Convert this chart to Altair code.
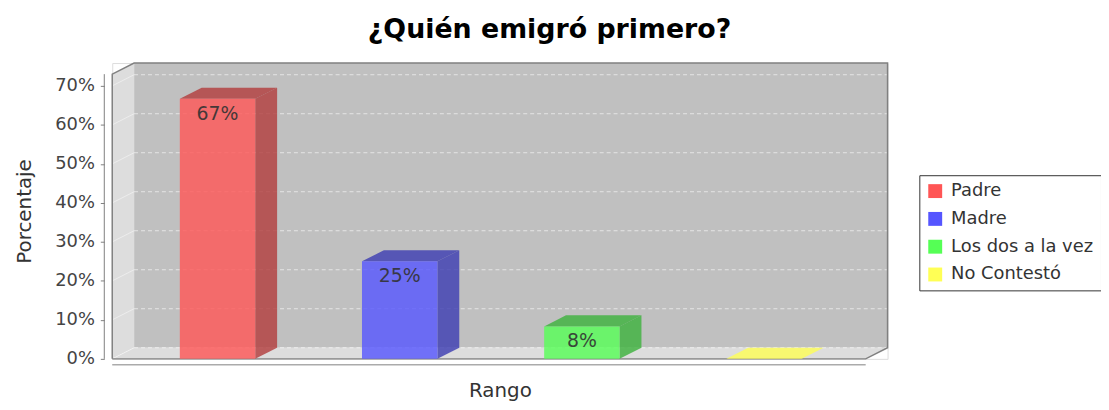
import altair as alt
import pandas as pd

# ---- data ----
categories = ["Padre", "Madre", "Los dos a la vez", "No Contestó"]
values = [66.67, 25.0, 8.33, 0.0]
base_colors = ["#FF5555", "#5555FF", "#55FF55", "#FFFF55"]
side_colors = ["#B23B3B", "#3B3BB2", "#3BB23B", "#B2B23B"]
y_ticks = [0, 10, 20, 30, 40, 50, 60, 70]

# ---- geometry (style constants, data units) ----
W, H = 781, 298
X_MIN, X_MAX = -0.578, 3.678
Y_MAX = 75.85
DX = 0.12          # 3D depth along x
DY = 2.85          # 3D depth along y
HW = 0.207         # half bar width
FRONT_R = X_MAX - DX
FRONT_T = Y_MAX - DY
FONT = "DejaVu Sans"

xs = alt.Scale(domain=[X_MIN, X_MAX], nice=False, zero=False)
ys = alt.Scale(domain=[0, Y_MAX], nice=False, zero=False)

xaxis = alt.Axis(title="Rango", labels=False, ticks=False, domain=False, grid=False,
                 titleFont=FONT, titleFontSize=20, titleFontWeight="normal",
                 titleColor="#333333", titlePadding=22)
yaxis = alt.Axis(title="Porcentaje", values=y_ticks, labelExpr="datum.value + '%'",
                 domain=False, grid=False, offset=8, tickSize=4, tickColor="#808080",
                 labelFont=FONT, labelFontSize=18, labelColor="#444444", labelPadding=6,
                 titleFont=FONT, titleFontSize=20, titleFontWeight="normal",
                 titleColor="#333333", titlePadding=20)


def X(f):
    return alt.X(f, type="quantitative", scale=xs, axis=xaxis)


def Y(f):
    return alt.Y(f, type="quantitative", scale=ys, axis=yaxis, stack=None)


# ---- walls ----
back_df = pd.DataFrame({"x0": [X_MIN + DX], "x1": [X_MAX], "y0": [DY], "y1": [Y_MAX]})
back = alt.Chart(back_df).mark_rect(color="#C0C0C0").encode(
    x=X("x0"), x2="x1", y=Y("y0"), y2="y1")

left_df = pd.DataFrame({"x": [X_MIN, X_MIN + DX], "lo": [0, DY], "hi": [FRONT_T, Y_MAX]})
left_wall = alt.Chart(left_df).mark_area(orient="vertical", color="#DDDDDD").encode(
    x=X("x"), y=Y("lo"), y2="hi")

floor_df = pd.DataFrame({"y": [0, DY], "xlo": [X_MIN, X_MIN + DX], "xhi": [FRONT_R, X_MAX]})
floor = alt.Chart(floor_df).mark_area(orient="horizontal", color="#DDDDDD").encode(
    y=Y("y"), x=X("xlo"), x2="xhi")

grid_df = pd.DataFrame({"v": y_ticks})
grid_df["vb"] = grid_df["v"] + DY
grid_df["xa"] = X_MIN
grid_df["xb"] = X_MIN + DX
grid_df["xc"] = X_MAX
grid_back = alt.Chart(grid_df).mark_rule(color="#FFFFFF", opacity=0.6, strokeDash=[4, 3],
                                         strokeWidth=1).encode(
    x=X("xb"), x2="xc", y=Y("vb"))
grid_left = alt.Chart(grid_df).mark_rule(color="#FFFFFF", opacity=0.45, strokeWidth=1).encode(
    x=X("xa"), x2="xb", y=Y("v"), y2="vb")

outline_df = pd.DataFrame({
    "x": [X_MIN, X_MIN, X_MIN + DX, X_MAX, X_MAX, FRONT_R, X_MIN],
    "y": [0, FRONT_T, Y_MAX, Y_MAX, DY, 0, 0],
    "o": list(range(7)),
})
outline = alt.Chart(outline_df).mark_line(color="#808080", strokeWidth=1.5).encode(
    x=X("x"), y=Y("y"), order="o:Q")

# ---- bars ----
rows = []
side_rows = []
top_rows = []
for i, (c, v) in enumerate(zip(categories, values)):
    rows.append({"cat": c, "v": v, "zero": 0, "cx": i, "x0": i - HW, "x1": i + HW,
                 "label": f"{round(v)}%" if v > 0 else ""})
    side_rows.append({"cat": c, "x": i + HW, "lo": 0, "hi": v, "fill": side_colors[i]})
    side_rows.append({"cat": c, "x": i + HW + DX, "lo": DY, "hi": v + DY, "fill": side_colors[i]})
    top_fill = side_colors[i] if v > 0 else base_colors[i]
    top_rows.append({"cat": c, "y": v, "xlo": i - HW, "xhi": i + HW, "fill": top_fill})
    top_rows.append({"cat": c, "y": v + DY, "xlo": i - HW + DX, "xhi": i + HW + DX, "fill": top_fill})

bars_df = pd.DataFrame(rows)
side_df = pd.DataFrame(side_rows)
top_df = pd.DataFrame(top_rows)

side = alt.Chart(side_df).mark_area(orient="vertical", opacity=0.8).encode(
    x=X("x"), y=Y("lo"), y2="hi", detail="cat:N", fill=alt.Fill("fill:N", scale=None))

top = alt.Chart(top_df).mark_area(orient="horizontal", opacity=0.8).encode(
    y=Y("y"), x=X("xlo"), x2="xhi", detail="cat:N", fill=alt.Fill("fill:N", scale=None))

front = alt.Chart(bars_df).mark_rect(opacity=0.8).encode(
    x=X("x0"), x2="x1", y=Y("v"), y2="zero",
    color=alt.Color("cat:N", sort=categories,
                    scale=alt.Scale(domain=categories, range=base_colors),
                    legend=alt.Legend(title=None, orient="none", legendX=813, legendY=113,
                                      direction="vertical", symbolType="square",
                                      symbolSize=196, symbolStrokeWidth=0, symbolOpacity=1,
                                      labelFont=FONT, labelFontSize=18, labelColor="#333333",
                                      labelOffset=7, padding=7, rowPadding=10,
                                      strokeColor="#333333", fillColor="#FFFFFF")))

labels = alt.Chart(bars_df[bars_df["label"] != ""]).mark_text(
    baseline="middle", dy=15, font=FONT, fontSize=19, color="#333333", opacity=0.9).encode(
    x=X("cx"), y=Y("v"), text="label:N")

# ---- axis lines ----
yline_df = pd.DataFrame({"a": [0], "b": [FRONT_T]})
yline = alt.Chart(yline_df).mark_rule(color="#808080", strokeWidth=1).encode(
    x=alt.value(-8), y=Y("a"), y2="b")

xline_df = pd.DataFrame({"a": [X_MIN], "b": [FRONT_R]})
xline = alt.Chart(xline_df).mark_rule(color="#808080", strokeWidth=1).encode(
    x=X("a"), x2="b", y=alt.value(H + 6))

chart = alt.layer(
    back, left_wall, floor, grid_back, grid_left, outline,
    side, top, front, labels, yline, xline
).properties(
    width=W, height=H,
    title=alt.Title("¿Quién emigró primero?", font=FONT, fontSize=27, fontWeight="bold",
                    color="#000000", anchor="middle", frame="group", dx=50, offset=16),
    autosize=alt.AutoSizeParams(type="none"),
    padding={"left": 105, "top": 54, "right": 215, "bottom": 42},
).configure_view(stroke=None).configure(background="#FFFFFF")

chart.save("out.html", embed_options={"renderer": "svg", "actions": False})
